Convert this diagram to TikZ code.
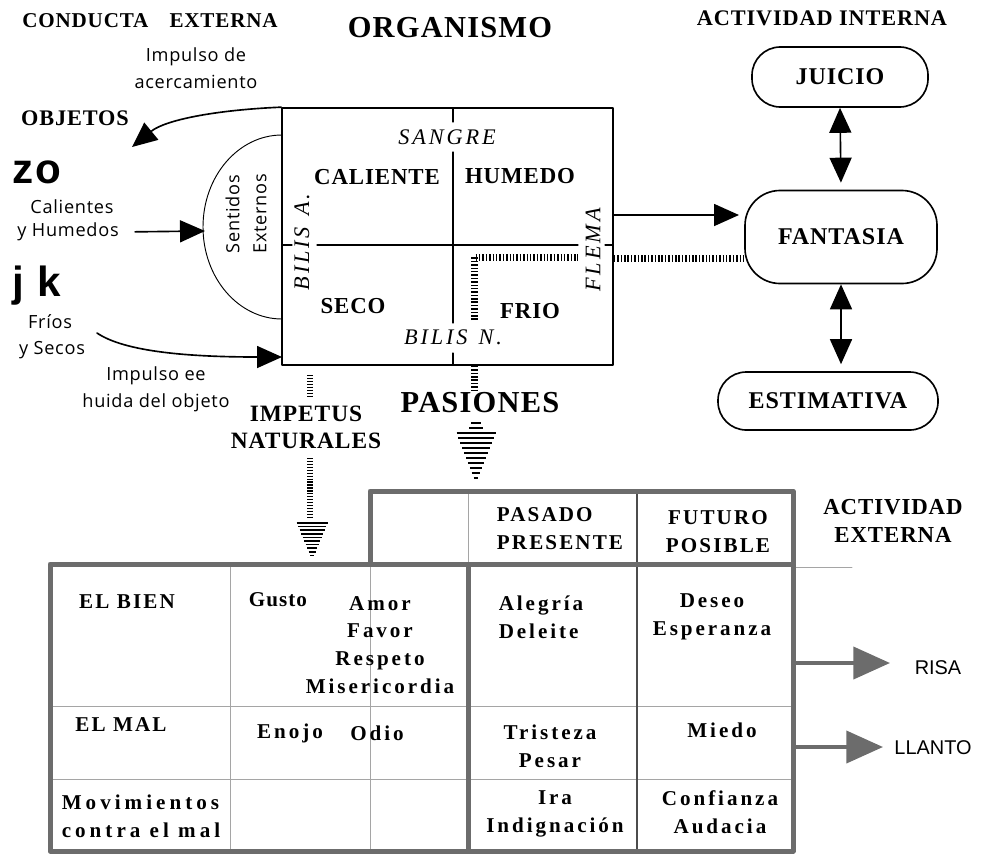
\documentclass[tikz,border=0pt]{standalone}
\usepackage{fontspec}
\setmainfont{Liberation Serif}
\newfontfamily\labfont{Liberation Serif}[LetterSpace=4]
\newfontfamily\itlfont{Liberation Serif}[LetterSpace=13]
\newfontfamily\tabfont{Liberation Serif}[LetterSpace=10]
\newfontfamily\lowfont{Liberation Serif}[LetterSpace=14]
\newfontfamily\movfont{Liberation Serif}[LetterSpace=19]
\newfontfamily\gustofont{Liberation Serif}[LetterSpace=5]
\newfontfamily\impfont{Open Sans}[LetterSpace=4]
\newfontfamily\bigsans{Liberation Sans}[LetterSpace=3]
\newfontfamily\plainsans{Liberation Sans}
\usetikzlibrary{arrows.meta}
\definecolor{tabgray}{RGB}{108,108,108}
\definecolor{rulegray}{RGB}{165,165,165}
\tikzset{
  lab/.style={font=\labfont\bfseries\fontsize{19.5}{23}\selectfont, align=center, inner sep=1pt},
  itl/.style={font=\itlfont\itshape\fontsize{19}{20}\selectfont, inner sep=1pt},
  tabtext/.style={font=\tabfont\bfseries\fontsize{18}{23.8}\selectfont, align=center, inner sep=1pt},
  lowtext/.style={font=\lowfont\bfseries\fontsize{18}{23.8}\selectfont, align=center, inner sep=1pt},
  sanstext/.style={font=\impfont\fontsize{15.5}{23}\selectfont, align=center, inner sep=1pt},
  roundbox/.style={draw, line width=1.4pt, rounded corners=0.85cm, font=\labfont\bfseries\fontsize{20.5}{22}\selectfont},
  hatch/.style={line width=0.21cm, line cap=butt, dash pattern=on 1.3pt off 1.6pt},
  thinhatch/.style={line width=0.17cm, line cap=butt, dash pattern=on 1.1pt off 1.4pt},
  stripe/.style={line width=1.4pt, line cap=butt},
  tabframe/.style={tabgray, line width=0.15cm, line cap=rect},
  tabrule/.style={rulegray, line width=0.8pt},
  thick arrow/.style={->, line width=1.4pt},
  gray arrow/.style={-{Triangle[length=1.1cm,width=0.96cm]}, tabgray, line width=0.12cm, line cap=butt},
}
\begin{document}
\begin{tikzpicture}[line cap=round,line join=round,>={Triangle[length=0.75cm,width=0.66cm]},x=0.03cm,y=-0.03cm]
\useasboundingbox (0,0) rectangle (993,858);
% titles
\node[lab, font=\labfont\bfseries\fontsize{18}{20}\selectfont] (conducta) at (150,21) {CONDUCTA\quad EXTERNA};
\node[lab, font=\labfont\bfseries\fontsize{26}{28}\selectfont] (organismo) at (450,28) {ORGANISMO};
\node[lab, font=\labfont\bfseries\fontsize{19}{20}\selectfont] (actint) at (822,18) {ACTIVIDAD INTERNA};
% organismo
\node[draw, line width=1.4pt, minimum width=9.93cm, minimum height=7.71cm, inner sep=0pt] (org) at (447.5,236.5) {};
\draw[line width=0.9pt] (453,108) -- (453,122) (453,152) -- (453,323) (453,353) -- (453,365);
\draw[line width=0.9pt] (317,245) -- (578,245) (282,245) -- (292,245) (605,245) -- (613,245);
\node[itl] (sangre) at (447,137) {SANGRE};
\node[lab] (caliente) at (377,177) {CALIENTE};
\node[lab] (humedo) at (520,176) {HUMEDO};
\node[lab] (seco) at (353,306) {SECO};
\node[lab] (frio) at (530,311) {FRIO};
\node[itl] (bilisn) at (453,337) {BILIS\enspace N.};
\node[itl, rotate=90] (bilisa) at (302,242) {BILIS\enspace A.};
\node[itl, rotate=90] (flema) at (593,250) {FLEMA};
% sentidos externos
\draw[line width=0.8pt] (282,135) arc[start angle=270, end angle=90, x radius=79, y radius=92];
\node[sanstext, rotate=90] (sentidos) at (246,214) {Sentidos\\Externos};
% objetos
\node[sanstext] (impulso) at (196,68) {Impulso de\\acercamiento};
\node[lab, font=\labfont\bfseries\fontsize{19}{20}\selectfont] (objetos) at (75,118) {OBJETOS};
\node[font=\bigsans\bfseries\fontsize{36}{36}\selectfont, inner sep=0pt] (zo) at (37,172) {zo};
\node[sanstext] (cal) at (72,207) {Calientes};
\node[sanstext] (hum) at (68,232) {y Humedos};
\node[font=\bigsans\bfseries\fontsize{36}{36}\selectfont, inner sep=0pt] (jk) at (37,286) {j k};
\node[sanstext] (frios) at (50,322) {Fríos};
\node[sanstext] (secos) at (52,350) {y Secos};
\node[sanstext] (huida) at (156,389) {Impulso ee\\huida del objeto};
\coordinate (objtip) at (132,147);
\coordinate (senttip) at (205,231);
\coordinate (huidast) at (97,333);
\coordinate (orgin) at (282,357);
\draw[thick arrow] (org.north west) .. controls (215,110) and (165,120) .. (objtip);
\draw[thick arrow, shorten <=0.45cm] (hum.east) -- (senttip);
\draw[thick arrow] (huidast) .. controls (125,352) and (190,357) .. (orgin);
% actividad interna
\node[roundbox, minimum width=5.28cm, minimum height=1.8cm] (juicio) at (840,77) {JUICIO};
\node[roundbox, minimum width=5.76cm, minimum height=2.79cm, rounded corners=1.05cm] (fant) at (841,237) {FANTASIA};
\node[roundbox, minimum width=6.6cm, minimum height=1.74cm] (estim) at (828,401) {ESTIMATIVA};
\draw[thick arrow, <->, shorten >=0.21cm] (juicio.south) -- (fant.north);
\draw[thick arrow, <->, shorten >=0.21cm] (fant.south) -- (fant.south |- estim.north);
\coordinate (fantl) at (739,215);
\draw[thick arrow] (org.east |- fantl) -- (fantl);
% pasiones
\coordinate (fanth) at (745,258);
\coordinate (pastop) at (474,390);
\draw[hatch] (474,320) -- (474,257) -- (578,257);
\draw[hatch] (org.east |- fanth) -- (fanth);
\draw[hatch] (org.south -| pastop) -- (pastop);
\node[lab, font=\labfont\bfseries\fontsize{26}{28}\selectfont] (pasiones) at (480,403) {PASIONES};
\draw[stripe] (471,423) -- (481,423) (469,428) -- (483,428);
\foreach \k in {0,...,9}
  \draw[stripe] ({476-19*(1-\k/10)-0.5},{433+5*\k}) -- ({476+19*(1-\k/10)+0.5},{433+5*\k});
% impetus
\draw[thinhatch] (310,375) -- (310,397);
\node[lab, font=\labfont\bfseries\fontsize{20}{23}\selectfont] (impetus) at (306,427) {IMPETUS\\NATURALES};
\draw[thinhatch] (310,458) -- (310,519);
\foreach \k in {0,...,9}
  \draw[stripe, line width=1.3pt] ({312-15*(1-\k/10)-0.5},{523+3.6*\k}) -- ({312+15*(1-\k/10)+0.5},{523+3.6*\k});
% tabla
\draw[tabrule] (230,564) -- (230,851) (370,564) -- (370,851) (50,706) -- (793,706) (50,779) -- (793,779) (468,491) -- (468,564) (793,567) -- (852,567);
\draw[line width=1pt, black!70] (637,491) -- (637,851);
\draw[tabframe] (50,564) rectangle (793,851);
\draw[tabframe] (370,564) -- (370,491) -- (793,491) -- (793,564);
\draw[tabframe] (468,564) -- (468,851);
\node[tabtext, align=left] (pasado) at (560,529) {PASADO\\PRESENTE};
\node[tabtext] (futuro) at (718,532) {FUTURO\\POSIBLE};
\node[lab, font=\labfont\bfseries\fontsize{19.5}{23.8}\selectfont] (actext) at (893,521) {ACTIVIDAD\\EXTERNA};
\node[tabtext] (bien) at (127,602) {EL BIEN};
\node[lowtext, font=\gustofont\bfseries\fontsize{18}{23.8}\selectfont] (gusto) at (278,600) {Gusto};
\node[lowtext] (amor) at (380,645) {Amor\\Favor\\Respeto\\Misericordia};
\node[lowtext, align=left] (alegria) at (541,617) {Alegría\\Deleite};
\node[lowtext] (deseo) at (712,617) {Deseo\\Esperanza};
\node[tabtext] (mal) at (121,725) {EL MAL};
\node[lowtext] (enojo) at (290,733) {Enojo};
\node[lowtext] (odio) at (377,733) {Odio};
\node[lowtext] (tristeza) at (550,746) {Tristeza\\Pesar};
\node[lowtext] (miedo) at (722,730) {Miedo};
\node[lowtext, align=left, font=\movfont\bfseries\fontsize{18}{23.8}\selectfont] (mov) at (141,816) {Movimientos\\contra el mal};
\node[lowtext] (ira) at (555,814) {Ira\\Indignación};
\node[lowtext] (confianza) at (720,812) {Confianza\\Audacia};
% actividad externa
\node[font=\plainsans\fontsize{17}{17}\selectfont, inner sep=1pt] (risa) at (938,668) {RISA};
\node[font=\plainsans\fontsize{17}{17}\selectfont, inner sep=1pt] (llanto) at (933,748) {LLANTO};
\coordinate (risast) at (796,663);
\coordinate (risatip) at (890,663);
\coordinate (llantost) at (796,747);
\coordinate (llantotip) at (883,747);
\draw[gray arrow] (risast) -- (risatip);
\draw[gray arrow] (llantost) -- (llantotip);
\end{tikzpicture}
\end{document}
